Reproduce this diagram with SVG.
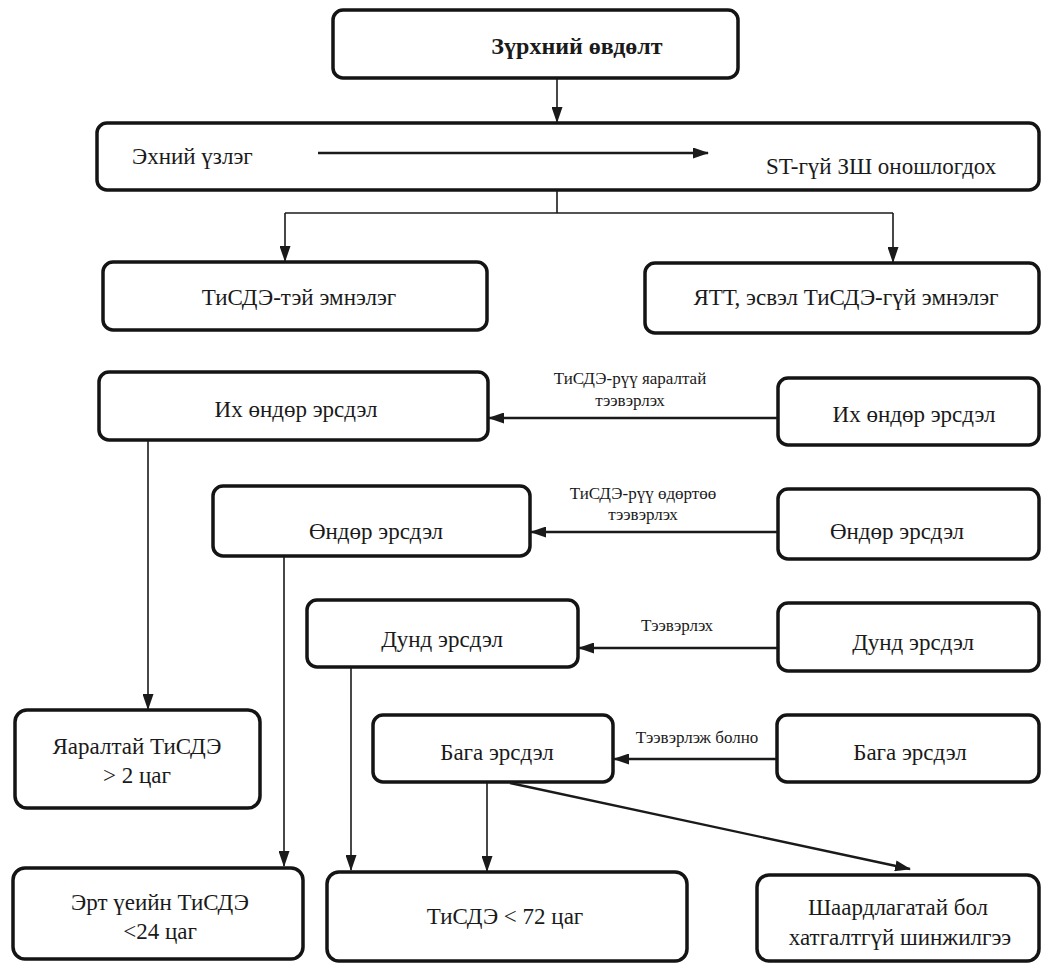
<svg xmlns="http://www.w3.org/2000/svg" width="1043" height="966" viewBox="0 0 1043 966">
  <defs>
    <marker id="arrow" viewBox="0 0 16 11" refX="15" refY="5.5" markerWidth="16" markerHeight="11" markerUnits="userSpaceOnUse" orient="auto">
      <path d="M0,0 L16,5.5 L0,11 Z" fill="#1a1a1a"/>
    </marker>
  </defs>
  <style>
    .box { fill: #ffffff; stroke: #141414; stroke-width: 3.5; }
    .t { font-family: "Liberation Serif", "Times New Roman", serif; font-size: 23px; fill: #1a1a1a; text-anchor: middle; }
    .ts { text-anchor: start; }
    .title { font-weight: bold; font-size: 24px; }
    .lbl { font-family: "Liberation Serif", "Times New Roman", serif; font-size: 17px; fill: #1a1a1a; text-anchor: middle; }
    .c { fill: none; stroke: #1a1a1a; stroke-width: 2.4; }
    .v { fill: none; stroke: #1a1a1a; stroke-width: 1.6; }
  </style>
  <rect width="1043" height="966" fill="#ffffff"/>

  <!-- nodes -->
  <g id="n-pain">
    <rect class="box" x="333" y="10" width="405" height="68" rx="10"/>
    <text class="t title" x="577" y="54">Зүрхний өвдөлт</text>
  </g>
  <g id="n-exam">
    <rect class="box" x="97" y="123" width="942" height="67" rx="10"/>
    <text class="t ts" x="132" y="164">Эхний үзлэг</text>
    <text class="t ts" x="766" y="174">ST-гүй ЗШ оношлогдох</text>
  </g>
  <g id="n-pci-hospital">
    <rect class="box" x="103" y="262" width="384" height="68" rx="10"/>
    <text class="t" x="299" y="305">ТиСДЭ-тэй эмнэлэг</text>
  </g>
  <g id="n-nonpci-hospital">
    <rect class="box" x="645" y="263" width="394" height="70" rx="10"/>
    <text class="t" x="846" y="305">ЯТТ, эсвэл ТиСДЭ-гүй эмнэлэг</text>
  </g>
  <g id="n-veryhigh-left">
    <rect class="box" x="99" y="372" width="389" height="68" rx="10"/>
    <text class="t" x="296" y="417">Их өндөр эрсдэл</text>
  </g>
  <g id="n-veryhigh-right">
    <rect class="box" x="778" y="378" width="261" height="67" rx="10"/>
    <text class="t" x="914" y="422">Их өндөр эрсдэл</text>
  </g>
  <g id="n-high-left">
    <rect class="box" x="213" y="486" width="317" height="70" rx="10"/>
    <text class="t" x="376" y="539">Өндөр эрсдэл</text>
  </g>
  <g id="n-high-right">
    <rect class="box" x="778" y="489" width="261" height="70" rx="10"/>
    <text class="t" x="897" y="539">Өндөр эрсдэл</text>
  </g>
  <g id="n-mid-left">
    <rect class="box" x="307" y="600" width="271" height="67" rx="10"/>
    <text class="t" x="442" y="647">Дунд эрсдэл</text>
  </g>
  <g id="n-mid-right">
    <rect class="box" x="778" y="603" width="261" height="68" rx="10"/>
    <text class="t" x="913" y="650">Дунд эрсдэл</text>
  </g>
  <g id="n-low-left">
    <rect class="box" x="373" y="715" width="240" height="67" rx="10"/>
    <text class="t" x="497" y="760">Бага эрсдэл</text>
  </g>
  <g id="n-low-right">
    <rect class="box" x="777" y="715" width="262" height="67" rx="10"/>
    <text class="t" x="910" y="760">Бага эрсдэл</text>
  </g>
  <g id="n-urgent">
    <rect class="box" x="15" y="710" width="245" height="98" rx="12"/>
    <text class="t" x="137" y="754">Яаралтай ТиСДЭ</text>
    <text class="t" x="137" y="783">&gt; 2 цаг</text>
  </g>
  <g id="n-early">
    <rect class="box" x="13" y="868" width="290" height="91" rx="12"/>
    <text class="t" x="160" y="910">Эрт үеийн ТиСДЭ</text>
    <text class="t" x="160" y="939">&lt;24 цаг</text>
  </g>
  <g id="n-72h">
    <rect class="box" x="327" y="872" width="360" height="89" rx="12"/>
    <text class="t" x="505" y="924">ТиСДЭ &lt; 72 цаг</text>
  </g>
  <g id="n-noninvasive">
    <rect class="box" x="757" y="875" width="282" height="86" rx="12"/>
    <text class="t" x="898" y="915">Шаардлагатай бол</text>
    <text class="t" x="900" y="945">хатгалтгүй шинжилгээ</text>
  </g>

  <!-- connectors (drawn over the boxes so the in-box arrow stays visible) -->
  <g id="connectors">
    <line class="v" x1="557" y1="79" x2="557" y2="122" marker-end="url(#arrow)"/>
    <line class="c" x1="318" y1="153" x2="708" y2="153" marker-end="url(#arrow)"/>
    <polyline class="v" points="557,191 557,213"/>
    <polyline class="v" points="285,213 893,213"/>
    <line class="v" x1="285" y1="213" x2="285" y2="261" marker-end="url(#arrow)"/>
    <line class="v" x1="893" y1="213" x2="893" y2="262" marker-end="url(#arrow)"/>
    <line class="c" x1="777" y1="418" x2="489" y2="418" marker-end="url(#arrow)"/>
    <line class="c" x1="777" y1="532" x2="531" y2="532" marker-end="url(#arrow)"/>
    <line class="c" x1="777" y1="648" x2="579" y2="648" marker-end="url(#arrow)"/>
    <line class="c" x1="776" y1="759" x2="614" y2="759" marker-end="url(#arrow)"/>
    <line class="v" x1="148" y1="441" x2="148" y2="709" marker-end="url(#arrow)"/>
    <line class="v" x1="284" y1="557" x2="284" y2="866" marker-end="url(#arrow)"/>
    <line class="v" x1="351" y1="668" x2="351" y2="870" marker-end="url(#arrow)"/>
    <line class="v" x1="487" y1="783" x2="487" y2="871" marker-end="url(#arrow)"/>
    <line class="c" x1="510" y1="783" x2="910" y2="869" marker-end="url(#arrow)"/>
    <text class="lbl" x="630" y="384">ТиСДЭ-рүү яаралтай</text>
    <text class="lbl" x="630" y="406">тээвэрлэх</text>
    <text class="lbl" x="643" y="499">ТиСДЭ-рүү өдөртөө</text>
    <text class="lbl" x="643" y="520">тээвэрлэх</text>
    <text class="lbl" x="677" y="631">Тээвэрлэх</text>
    <text class="lbl" x="697" y="743">Тээвэрлэж болно</text>
  </g>
</svg>
